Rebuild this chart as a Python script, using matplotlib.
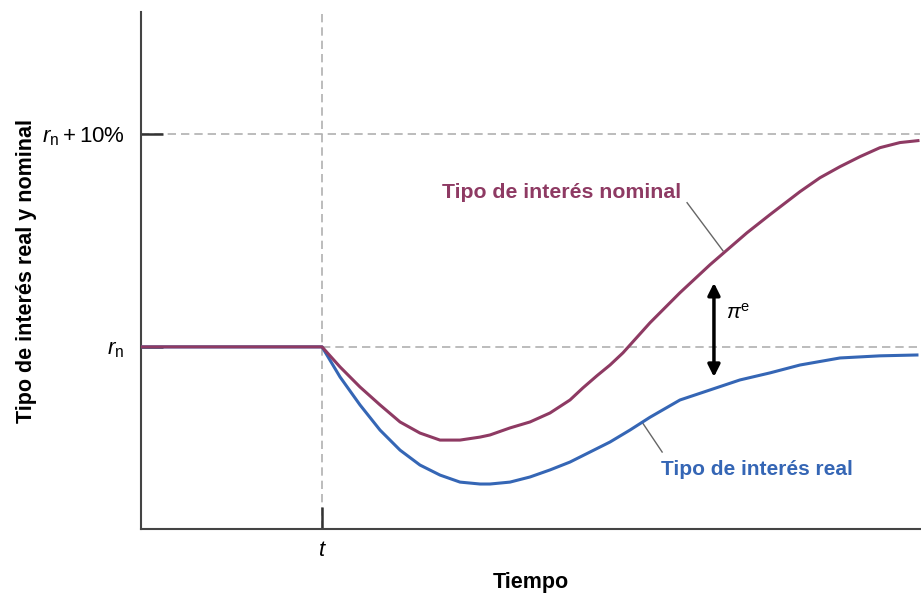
import matplotlib.pyplot as plt

plt.rcParams['font.family'] = ['Liberation Sans', 'DejaVu Sans']
plt.rcParams['mathtext.fontset'] = 'custom'
plt.rcParams['mathtext.rm'] = 'Liberation Sans'
plt.rcParams['mathtext.it'] = 'Liberation Sans:italic'

# Time axis runs 0..100, shock at t; rates measured relative to r_n (in %)
t_shock = 23.24
nominal_x = [0, 23.24, 25.55, 28.11, 30.68, 33.25, 35.81, 38.38, 40.95, 43.52,
             44.80, 47.37, 49.94, 52.50, 55.07, 56.74, 58.54, 60.21, 61.87, 65.34,
             69.19, 73.04, 74.97, 77.79, 80.74, 84.60, 87.16, 89.73, 92.30,
             94.86, 97.43, 99.74]
nominal_y = [0, 0, -0.94, -1.88, -2.72, -3.52, -4.04, -4.37, -4.37, -4.23,
             -4.13, -3.80, -3.52, -3.10, -2.49, -1.92, -1.35, -0.85, -0.28, 1.13,
             2.54, 3.85, 4.46, 5.35, 6.20, 7.28, 7.93, 8.45, 8.92,
             9.34, 9.58, 9.67]
real_x = [0, 23.24, 25.55, 28.11, 30.68, 33.25, 35.81, 38.38, 40.95, 43.52,
          44.80, 47.37, 49.94, 52.50, 55.07, 57.64, 60.21, 62.77, 65.34, 69.19,
          73.04, 76.89, 80.74, 84.60, 89.73, 94.86, 99.61]
real_y = [0, 0, -1.41, -2.72, -3.90, -4.84, -5.54, -6.01, -6.34, -6.43,
          -6.43, -6.34, -6.10, -5.77, -5.40, -4.93, -4.46, -3.90, -3.30, -2.49,
          -2.02, -1.55, -1.22, -0.85, -0.52, -0.42, -0.38]
ytick_vals = [0, 10]
ytick_labels = [r'$r_{\mathrm{n}}$', r'$r_{\mathrm{n}} + 10\%$']

nom_color = '#8e3a63'
real_color = '#3566b5'
grid_color = '#b0b0b0'

fig = plt.figure(figsize=(9.21, 5.93), dpi=100)
ax = fig.add_axes([0.1531, 0.1079, 0.8458, 0.8718])
ax.set_xlim(0, 100)
ax.set_ylim(-8.54, 15.7)

ax.axhline(10, color=grid_color, lw=1.2, ls=(0, (5, 3)), zorder=1)
ax.plot([t_shock, 100], [0, 0], color=grid_color, lw=1.2, ls=(0, (5, 3)), zorder=1)
ax.axvline(t_shock, color=grid_color, lw=1.2, ls=(0, (5, 3)), zorder=1)

ax.plot(real_x, real_y, color=real_color, lw=2.2, zorder=3)
ax.plot(nominal_x, nominal_y, color=nom_color, lw=2.2, zorder=4)

for side in ['top', 'right']:
    ax.spines[side].set_visible(False)
for side in ['left', 'bottom']:
    ax.spines[side].set_color('#444444')
    ax.spines[side].set_linewidth(1.5)

ax.set_yticks(ytick_vals)
ax.set_yticklabels(ytick_labels, fontsize=16)
ax.set_xticks([t_shock])
ax.set_xticklabels(['t'], fontsize=16, style='italic')
ax.tick_params(axis='both', direction='in', length=16, width=1.8, color='#333333')
ax.tick_params(axis='y', pad=12)
ax.tick_params(axis='x', pad=8)

ax.set_ylabel('Tipo de interés real y nominal', fontsize=15.5, fontweight='bold', labelpad=3)
ax.set_xlabel('Tiempo', fontsize=15.5, fontweight='bold', labelpad=8)

# labels with leader lines
ax.text(54.0, 7.23, 'Tipo de interés nominal', color=nom_color, fontsize=15.3,
        fontweight='bold', ha='center', va='center')
ax.plot([70.1, 74.7], [6.76, 4.51], color='#666666', lw=1)
ax.text(79.1, -5.77, 'Tipo de interés real', color=real_color, fontsize=15,
        fontweight='bold', ha='center', va='center')
ax.plot([64.4, 66.9], [-3.57, -4.93], color='#666666', lw=1)

# expected inflation gap
ax.annotate('', xy=(73.55, 3.0), xytext=(73.55, -1.41),
            arrowprops=dict(arrowstyle='<|-|>', color='black', lw=2.5,
                            mutation_scale=18, shrinkA=0, shrinkB=0))
ax.text(75.1, 1.6, r'$\pi^{\mathrm{e}}$', fontsize=15, ha='left', va='center')

fig.savefig('out.png', dpi=100)
